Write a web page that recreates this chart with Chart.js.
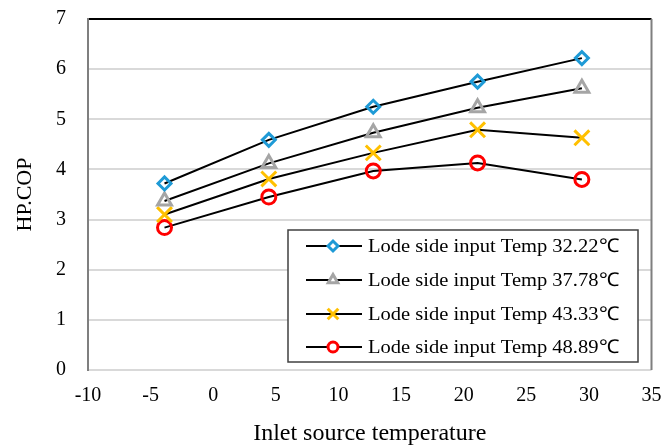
<!DOCTYPE html>
<html>
<head>
<meta charset="utf-8">
<script src="https://cdn.jsdelivr.net/npm/chart.js@4.4.1/dist/chart.umd.min.js"></script>
<style>
  html, body { margin: 0; padding: 0; background: #fff; }
  #wrap { width: 665px; height: 448px; }
</style>
</head>
<body>
<div id="wrap"><canvas id="chart" width="665" height="448"></canvas></div>
<script>
'use strict'

const inletTemps = [-3.89, 4.44, 12.78, 21.11, 29.44]
const cop3222 = [3.72, 4.59, 5.25, 5.75, 6.22]
const cop3778 = [3.37, 4.12, 4.73, 5.23, 5.62]
const cop4333 = [3.10, 3.81, 4.33, 4.79, 4.63]
const cop4889 = [2.84, 3.45, 3.97, 4.13, 3.80]
const seriesLabels = [
  'Lode side input Temp 32.22℃',
  'Lode side input Temp 37.78℃',
  'Lode side input Temp 43.33℃',
  'Lode side input Temp 48.89℃',
]
const xTitle = 'Inlet source temperature'
const yTitle = 'HP.COP'

const serif = "'Liberation Serif', 'Times New Roman', serif"

const toPoints = (ys) => ys.map((y, i) => ({ x: inletTemps[i], y: y }))

const markers = [
  { style: 'rectRot', color: '#1e9ad6', radius: 6.5, legendRadius: 5 },
  { style: 'triangle', color: '#a5a5a5', radius: 8, legendRadius: 5.5 },
  { style: 'crossRot', color: '#ffc000', radius: 10.5, legendRadius: 7.5 },
  { style: 'circle', color: '#ff0000', radius: 7, legendRadius: 5 },
]

const allSeries = [cop3222, cop3778, cop4333, cop4889]

const datasets = allSeries.map((ys, i) => ({
  label: seriesLabels[i],
  data: toPoints(ys),
  showLine: true,
  borderColor: '#000',
  borderWidth: 2,
  pointStyle: markers[i].style,
  pointRadius: markers[i].radius,
  pointBorderColor: markers[i].color,
  pointBackgroundColor: 'rgba(0,0,0,0)',
  pointBorderWidth: 3,
  pointHoverRadius: markers[i].radius,
}))

// right frame edge + legend box drawn inside the plot area
const framePlugin = {
  id: 'frame',
  afterDraw(chart) {
    const { ctx, chartArea } = chart
    ctx.save()
    ctx.strokeStyle = '#7f7f7f'
    ctx.lineWidth = 2
    ctx.beginPath()
    ctx.moveTo(chartArea.right, chartArea.top)
    ctx.lineTo(chartArea.right, chartArea.bottom)
    ctx.stroke()

    // legend
    const box = { left: 288, top: 230, right: 638, bottom: 362 }
    ctx.fillStyle = '#fff'
    ctx.fillRect(box.left, box.top, box.right - box.left, box.bottom - box.top)
    ctx.strokeStyle = '#404040'
    ctx.lineWidth = 1.5
    ctx.strokeRect(box.left, box.top, box.right - box.left, box.bottom - box.top)

    const rows = [246, 280, 314, 347]
    seriesLabels.forEach((label, i) => {
      const y = rows[i]
      ctx.strokeStyle = '#000'
      ctx.lineWidth = 2
      ctx.beginPath()
      ctx.moveTo(306, y)
      ctx.lineTo(362, y)
      ctx.stroke()
      ctx.strokeStyle = markers[i].color
      ctx.fillStyle = '#fff'
      ctx.lineWidth = 3
      Chart.helpers.drawPoint(ctx, {
        pointStyle: markers[i].style,
        radius: markers[i].legendRadius,
        rotation: 0,
        borderWidth: 3,
      }, 333, y)
      // slightly wide text, like the source picture
      ctx.save()
      ctx.translate(368, y + 1)
      ctx.scale(1.08, 1)
      ctx.font = '19px ' + serif
      ctx.textBaseline = 'middle'
      ctx.textAlign = 'left'
      ctx.fillStyle = '#000'
      ctx.fillText(label, 0, 0)
      ctx.restore()
    })
    ctx.restore()
  },
}

const config = {
  type: 'scatter',
  data: { datasets: datasets },
  options: {
    responsive: false,
    animation: false,
    layout: { padding: { top: 19, right: 10, left: 0, bottom: 0 } },
    plugins: {
      legend: { display: false },
      tooltip: { enabled: false },
    },
    scales: {
      x: {
        type: 'linear',
        min: -10,
        max: 35,
        afterFit: (scale) => {
          scale.height = 78
          scale.paddingLeft = 0
          scale.paddingRight = 0
        },
        ticks: {
          stepSize: 5,
          color: '#000',
          padding: 6,
          font: { family: serif, size: 20 },
        },
        grid: { display: false },
        border: { display: false },
        title: {
          display: true,
          text: xTitle,
          color: '#000',
          font: { family: serif, size: 24 },
          padding: { top: 0, bottom: 0 },
        },
      },
      y: {
        min: 0,
        max: 7,
        afterFit: (scale) => {
          scale.width = 88
          scale.paddingTop = 0
          scale.paddingBottom = 0
        },
        ticks: {
          stepSize: 1,
          color: '#000',
          padding: 22,
          font: { family: serif, size: 20 },
        },
        grid: {
          drawTicks: false,
          lineWidth: 2,
          color: (c) => (c.tick && c.tick.value === 7 ? '#000' : '#d9d9d9'),
        },
        border: { color: '#7f7f7f', width: 2 },
        title: {
          display: true,
          text: yTitle,
          color: '#000',
          font: { family: serif, size: 22 },
          padding: { top: 12, bottom: 0 },
        },
      },
    },
  },
  plugins: [framePlugin],
}

const myChart = new Chart(document.getElementById('chart'), config)
</script>
</body>
</html>
